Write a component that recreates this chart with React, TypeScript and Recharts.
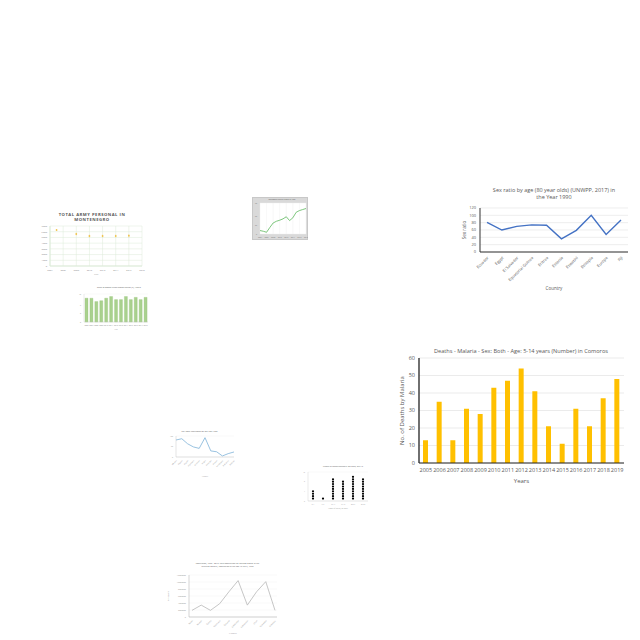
import {
  BarChart,
  Bar,
  LineChart,
  Line,
  ScatterChart,
  Scatter,
  XAxis,
  YAxis,
  CartesianGrid,
  ErrorBar,
} from 'recharts';

const FONT = '"Open Sans", sans-serif';
const GREY = '#595959';

// Deaths - Malaria, Comoros
const malariaYears = ['2005', '2006', '2007', '2008', '2009', '2010', '2011', '2012', '2013', '2014', '2015', '2016', '2017', '2018', '2019'];
const malariaDeaths = [13, 35, 13, 31, 28, 43, 47, 54, 41, 21, 11, 31, 21, 37, 48];
const malariaTicks = [0, 10, 20, 30, 40, 50, 60];

// Sex ratio, 80 year olds, 1990
const sexCountries = ['Ecuador', 'Egypt', 'El Salvador', 'Equatorial Guinea', 'Eritrea', 'Estonia', 'Eswatini', 'Ethiopia', 'Europe', 'Fiji'];
const sexRatios = [81, 60, 70, 74, 73, 36, 59, 100, 48, 87];
const sexTicks = [0, 20, 40, 60, 80, 100, 120];

// Total army personnel, Montenegro
const armyYears = [2005, 2008, 2010, 2012, 2014, 2016];
const armyPersonnel = [6300, 5600, 5250, 5250, 5250, 5300];
const armyErr = [0, 250, 250, 250, 250, 300];
const armyXTicks = [2004, 2006, 2008, 2010, 2012, 2014, 2016, 2018];
const armyYTicks = [0, 1000, 2000, 3000, 4000, 5000, 6000, 7000];

// small green line
const growthYears = ['2004', '2005', '2006', '2007', '2008', '2009', '2010', '2011', '2012', '2013', '2014', '2015', '2016', '2017', '2018'];
const growthValues = [10, 8, 5, 19, 32, 37, 40, 44, 50, 39, 47, 63, 68, 71, 74];

// small green bars
const shareYears = ['2006', '2007', '2008', '2009', '2010', '2011', '2012', '2013', '2014', '2015', '2016', '2017', '2018'];
const shareValues = [8.5, 8.5, 7.3, 7.6, 8.5, 9.1, 8.0, 8.0, 9.1, 8.0, 8.8, 8.0, 8.8];

// small blue line
const ratioCountries = ['Albania', 'Algeria', 'Angola', 'Argentina', 'Armenia', 'Aruba', 'Australia', 'Austria', 'Azerbaijan', 'Bahamas', 'Bahrain'];
const ratioValues = [81, 87, 63, 48, 41, 92, 29, 25, 5, 16, 24];

// dot columns
const dotGroups = ['0-4', '5-9', '10-14', '15-19', '20-24', '25-29'];
const dotCounts = [4, 1, 9, 8, 10, 9];

// small grey line
const popCountries = ['Benin', 'Bhutan', 'Bolivia', 'Botswana', 'Burundi', 'Cambodia', 'Cameroon', 'Chad', 'Colombia', 'Comoros'];
const popValues = [1900000, 3400000, 1900000, 3800000, 7200000, 10400000, 3400000, 7200000, 10100000, 1900000];
const popTicks = [0, 2000000, 4000000, 6000000, 8000000, 10000000, 12000000];

const malariaData = malariaYears.map((year, i) => ({ year, deaths: malariaDeaths[i] }));
const sexData = sexCountries.map((country, i) => ({ country, ratio: sexRatios[i] }));
const armyData = armyYears.map((year, i) => ({ year, personnel: armyPersonnel[i], err: armyErr[i] }));
const growthData = growthYears.map((year, i) => ({ year, value: growthValues[i] }));
const shareData = shareYears.map((year, i) => ({ year, value: shareValues[i] }));
const ratioData = ratioCountries.map((country, i) => ({ country, value: ratioValues[i] }));
const dotData = dotCounts.flatMap((n, i) => Array.from({ length: n }, (_, k) => ({ group: i, count: k + 1 })));
const popData = popCountries.map((country, i) => ({ country, value: popValues[i] }));

function Title({ lines, left, top, width, size, bold, spacing }: { lines: string[]; left: number; top: number; width: number; size: number; bold?: boolean; spacing?: number }) {
  return (
    <div
      style={{
        position: 'absolute',
        left,
        top,
        width,
        textAlign: 'center',
        fontFamily: FONT,
        fontSize: size,
        lineHeight: 1.3,
        color: GREY,
        fontWeight: bold ? 700 : 400,
        letterSpacing: spacing ?? 0,
        whiteSpace: 'nowrap',
      }}
    >
      {lines.map((l) => (
        <div key={l}>{l}</div>
      ))}
    </div>
  );
}

function MalariaChart() {
  const tick = { fontSize: 5.5, fill: GREY, fontFamily: FONT };
  return (
    <div style={{ position: 'absolute', left: 390, top: 345, width: 240, height: 145 }}>
      <BarChart width={240} height={145} data={malariaData} margin={{ top: 13, right: 6, left: 0, bottom: 0 }}>
        <CartesianGrid vertical={false} stroke="#e3e3e3" strokeWidth={0.7} />
        <XAxis
          dataKey="year"
          interval={0}
          height={27}
          tick={tick}
          tickLine={false}
          tickSize={3}
          axisLine={{ stroke: '#222', strokeWidth: 1 }}
          label={{ value: 'Years', position: 'insideBottom', offset: 7, fontSize: 6, fill: GREY, fontFamily: FONT }}
        />
        <YAxis
          domain={[0, 60]}
          ticks={malariaTicks}
          interval={0}
          width={29}
          tick={tick}
          tickLine={false}
          tickSize={2}
          axisLine={{ stroke: '#222', strokeWidth: 1.3 }}
          label={{ value: 'No. of Deaths by Malaria', angle: -90, position: 'insideLeft', offset: 12, fontSize: 6, fill: GREY, fontFamily: FONT, style: { textAnchor: 'middle' } }}
        />
        <Bar dataKey="deaths" fill="#FFC000" barSize={5} isAnimationActive={false} />
      </BarChart>
      <Title lines={['Deaths - Malaria - Sex: Both - Age: 5-14 years (Number) in  Comoros']} left={0} top={3} width={262} size={5.6} />
    </div>
  );
}

function SexRatioChart() {
  const tick = { fontSize: 4, fill: GREY, fontFamily: FONT };
  return (
    <div style={{ position: 'absolute', left: 450, top: 180, width: 180, height: 115 }}>
      <LineChart width={180} height={115} data={sexData} margin={{ top: 28, right: 2, left: 0, bottom: 0 }}>
        <CartesianGrid vertical={false} stroke="#e3e3e3" strokeWidth={0.6} />
        <XAxis
          dataKey="country"
          interval={0}
          height={43}
          angle={-45}
          textAnchor="end"
          padding={{ left: 7, right: 7 }}
          tick={tick}
          tickLine={false}
          tickSize={2}
          axisLine={{ stroke: '#333', strokeWidth: 1 }}
          label={{ value: 'Country', position: 'insideBottom', offset: 5, fontSize: 4.5, fill: GREY, fontFamily: FONT }}
        />
        <YAxis
          domain={[0, 120]}
          ticks={sexTicks}
          interval={0}
          width={30}
          tick={tick}
          tickLine={false}
          tickSize={2}
          axisLine={{ stroke: '#333', strokeWidth: 1 }}
          label={{ value: 'Sex ratio', angle: -90, position: 'insideLeft', offset: 14, fontSize: 4.5, fill: GREY, fontFamily: FONT, style: { textAnchor: 'middle' } }}
        />
        <Line dataKey="ratio" stroke="#4472C4" strokeWidth={1.4} dot={false} isAnimationActive={false} />
      </LineChart>
      <Title lines={['Sex ratio by age (80 year olds) (UNWPP, 2017) in', 'the Year 1990']} left={30} top={7} width={148} size={5.5} />
    </div>
  );
}

function ArmyChart() {
  const tick = { fontSize: 2.4, fill: '#888', fontFamily: FONT };
  return (
    <div style={{ position: 'absolute', left: 40, top: 205, width: 110, height: 70 }}>
      <ScatterChart width={110} height={70} margin={{ top: 21, right: 8, left: 0, bottom: 0 }}>
        <CartesianGrid stroke="#dcebd8" strokeWidth={0.5} />
        <XAxis
          type="number"
          dataKey="year"
          domain={[2004, 2018]}
          ticks={armyXTicks}
          interval={0}
          height={9}
          tick={tick}
          tickLine={false}
          tickSize={1}
          axisLine={{ stroke: '#dcebd8' }}
          label={{ value: 'Year', position: 'insideBottom', offset: 0, fontSize: 2.4, fill: '#888' }}
        />
        <YAxis
          type="number"
          dataKey="personnel"
          domain={[0, 7000]}
          ticks={armyYTicks}
          interval={0}
          width={10}
          tick={tick}
          tickLine={false}
          tickSize={1}
          axisLine={{ stroke: '#dcebd8' }}
        />
        <Scatter
          data={armyData}
          fill="#f0c44c"
          shape={(p: any) => <circle cx={p.cx} cy={p.cy} r={0.9} fill="#f0c44c" />}
          isAnimationActive={false}
        >
          <ErrorBar dataKey="err" direction="y" width={0} stroke="#e9d38a" strokeWidth={0.5} />
        </Scatter>
      </ScatterChart>
      <Title lines={['TOTAL ARMY PERSONAL IN', 'MONTENEGRO']} left={0} top={7} width={104} size={4.2} bold spacing={0.5} />
    </div>
  );
}

function GrowthChart() {
  const tick = { fontSize: 1.8, fill: '#777', fontFamily: FONT };
  return (
    <div style={{ position: 'absolute', left: 252, top: 197, width: 56, height: 43, background: '#d9d9d9', border: '0.5px solid #c8c8c8', boxSizing: 'border-box' }}>
      <LineChart width={55} height={42} data={growthData} margin={{ top: 5, right: 2, left: 0, bottom: 0 }}>
        <CartesianGrid fill="#ffffff" stroke="#eeeeee" strokeWidth={0.4} />
        <XAxis dataKey="year" interval={1} height={6} tick={tick} tickLine={false} tickSize={1} axisLine={false} />
        <YAxis domain={[0, 90]} width={7} tick={tick} tickLine={false} tickSize={1} axisLine={false} />
        <Line dataKey="value" stroke="#5cb85c" strokeWidth={0.8} dot={false} isAnimationActive={false} />
      </LineChart>
      <Title lines={['Renewable energy share by year']} left={6} top={1} width={46} size={1.8} />
    </div>
  );
}

function ShareChart() {
  const tick = { fontSize: 1.8, fill: '#888', fontFamily: FONT };
  return (
    <div style={{ position: 'absolute', left: 75, top: 285, width: 80, height: 45 }}>
      <BarChart width={80} height={45} data={shareData} margin={{ top: 9, right: 7, left: 0, bottom: 0 }}>
        <CartesianGrid vertical={false} stroke="#eeeeee" strokeWidth={0.4} />
        <XAxis
          dataKey="year"
          interval={0}
          height={8}
          tick={tick}
          tickLine={false}
          tickSize={1}
          axisLine={{ stroke: '#ccc', strokeWidth: 0.4 }}
          label={{ value: 'Year', position: 'insideBottom', offset: 0, fontSize: 1.8, fill: '#888' }}
        />
        <YAxis domain={[0, 10]} width={9} tick={tick} tickLine={false} tickSize={1} axisLine={{ stroke: '#ccc', strokeWidth: 0.4 }} />
        <Bar dataKey="value" fill="#a9d18e" stroke="#8fc06f" strokeWidth={0.3} barSize={3} isAnimationActive={false} />
      </BarChart>
      <Title lines={['Share of women in top income groups (%), Algeria']} left={8} top={2} width={72} size={1.9} />
    </div>
  );
}

function RatioChart() {
  const tick = { fontSize: 1.8, fill: '#999', fontFamily: FONT };
  return (
    <div style={{ position: 'absolute', left: 160, top: 428, width: 80, height: 50 }}>
      <LineChart width={80} height={50} data={ratioData} margin={{ top: 8, right: 6, left: 0, bottom: 0 }}>
        <CartesianGrid vertical={false} stroke="#f0f0f0" strokeWidth={0.4} />
        <XAxis
          dataKey="country"
          interval={0}
          height={21}
          angle={-45}
          textAnchor="end"
          tick={tick}
          tickLine={false}
          tickSize={1}
          axisLine={{ stroke: '#bbb', strokeWidth: 0.4 }}
          label={{ value: 'Country', position: 'insideBottom', offset: 1, fontSize: 1.9, fill: '#999' }}
        />
        <YAxis domain={[0, 100]} width={16} tick={tick} tickLine={false} tickSize={1} axisLine={{ stroke: '#bbb', strokeWidth: 0.4 }} />
        <Line dataKey="value" stroke="#7fb2d8" strokeWidth={0.8} dot={false} isAnimationActive={false} />
      </LineChart>
      <Title lines={['Sex ratio: Population for the year 1990']} left={12} top={3} width={55} size={2} />
    </div>
  );
}

function DotChart() {
  const tick = { fontSize: 1.6, fill: '#999', fontFamily: FONT };
  return (
    <div style={{ position: 'absolute', left: 300, top: 460, width: 75, height: 50 }}>
      <ScatterChart width={75} height={50} margin={{ top: 12, right: 7, left: 0, bottom: 0 }}>
        <CartesianGrid vertical={false} stroke="#f0f0f0" strokeWidth={0.4} />
        <XAxis
          type="number"
          dataKey="group"
          domain={[-0.5, 5.5]}
          ticks={[0, 1, 2, 3, 4, 5]}
          tickFormatter={(v: number) => dotGroups[v]}
          height={9}
          tick={tick}
          tickLine={false}
          tickSize={1}
          axisLine={{ stroke: '#ccc', strokeWidth: 0.4 }}
          label={{ value: 'Number of patients, age group', position: 'insideBottom', offset: 1, fontSize: 1.6, fill: '#999' }}
        />
        <YAxis type="number" dataKey="count" domain={[0, 12]} ticks={[0, 4, 8, 12]} width={8} tick={tick} tickLine={false} tickSize={1} axisLine={{ stroke: '#ccc', strokeWidth: 0.4 }} />
        <Scatter data={dotData} fill="#000" shape={(p: any) => <circle cx={p.cx} cy={p.cy} r={1.1} fill="#000" />} isAnimationActive={false} />
      </ScatterChart>
      <Title lines={['Number of infected patients by age group, 2017-18']} left={12} top={5} width={62} size={1.7} />
    </div>
  );
}

function PopulationChart() {
  const tick = { fontSize: 2, fill: '#999', fontFamily: FONT };
  return (
    <div style={{ position: 'absolute', left: 160, top: 560, width: 125, height: 75 }}>
      <LineChart width={125} height={75} data={popData} margin={{ top: 15, right: 8, left: 0, bottom: 0 }}>
        <CartesianGrid vertical={false} stroke="#f0f0f0" strokeWidth={0.4} />
        <XAxis
          dataKey="country"
          interval={0}
          height={18}
          angle={-45}
          textAnchor="end"
          padding={{ left: 3, right: 2 }}
          tick={tick}
          tickLine={false}
          tickSize={1}
          axisLine={{ stroke: '#aaa', strokeWidth: 0.5 }}
          label={{ value: 'Country', position: 'insideBottom', offset: 1, fontSize: 2.4, fill: '#999' }}
        />
        <YAxis
          domain={[0, 12000000]}
          ticks={popTicks}
          interval={0}
          width={29}
          tick={tick}
          tickLine={false}
          tickSize={1}
          axisLine={{ stroke: '#aaa', strokeWidth: 0.5 }}
          label={{ value: 'Population', angle: -90, position: 'insideLeft', offset: 8, fontSize: 2.4, fill: '#999', style: { textAnchor: 'middle' } }}
        />
        <Line dataKey="value" stroke="#b8b8b8" strokeWidth={0.8} dot={false} isAnimationActive={false} />
      </LineChart>
      <Title lines={['Population, 1950 - 2015: total population for average group in the', 'selected country, Population in the age 15 to 64, 1990']} left={10} top={3} width={115} size={2.1} />
    </div>
  );
}

export default function App() {
  return (
    <div style={{ position: 'fixed', left: 0, top: 0, width: 640, height: 640, background: '#fff', overflow: 'hidden' }}>
      <ArmyChart />
      <GrowthChart />
      <SexRatioChart />
      <ShareChart />
      <MalariaChart />
      <RatioChart />
      <DotChart />
      <PopulationChart />
    </div>
  );
}
